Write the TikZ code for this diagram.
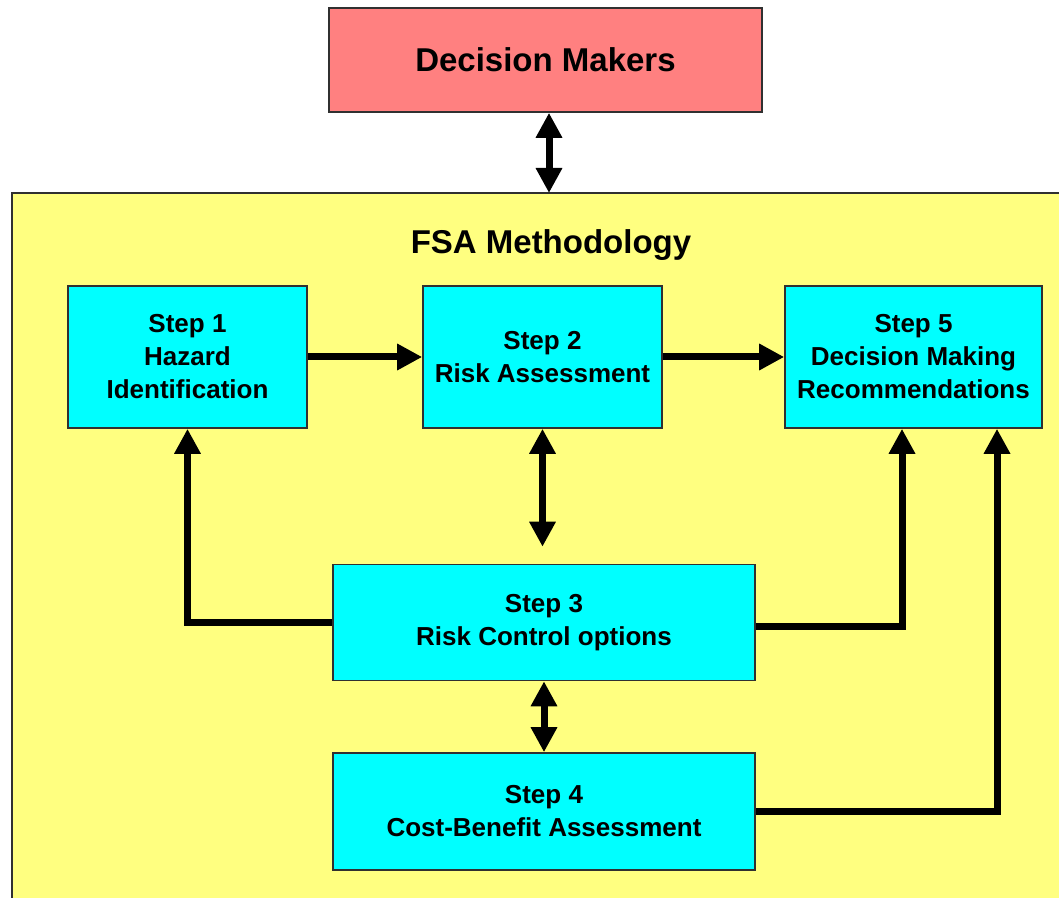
\documentclass[tikz,border=0pt]{standalone}
\usepackage{fontspec}
\setmainfont{Liberation Sans}
\usetikzlibrary{arrows.meta}

\definecolor{dmred}{HTML}{FF8080}
\definecolor{fsayellow}{HTML}{FFFF80}
\definecolor{stepcyan}{HTML}{00FFFF}
\definecolor{edgegray}{HTML}{303030}

\begin{document}
\begin{tikzpicture}[x=0.5pt,y=-0.5pt,
    stepbox/.style={draw=edgegray,line width=0.8pt,fill=stepcyan,align=center,
        font=\fontsize{13}{16.5}\selectfont\bfseries,inner sep=0pt},
    link/.style={line width=3.5pt,-{Triangle[length=12.5pt,width=12.5pt]}},
    bothways/.style={line width=3.5pt,{Triangle[length=12.5pt,width=12.5pt]}-{Triangle[length=12.5pt,width=12.5pt]}}]
    \useasboundingbox (0,0) rectangle (1059,898);
    % the methodology frame runs off the right and bottom edge
    \fill[fsayellow] (12,193) rectangle (1059,898);
    \draw[edgegray,line width=0.8pt] (12,898) -- (12,193) -- (1059,193);
    \coordinate (fsatop) at (549,193);

    \node[draw=edgegray,line width=0.8pt,fill=dmred,minimum width=216.5pt,minimum height=52pt,
        font=\fontsize{16.5}{20}\selectfont\bfseries] (dm) at (545.5,60) {Decision Makers};
    \node[font=\fontsize{16.5}{20}\selectfont\bfseries] (fsa) at (551,245) {FSA Methodology};

    \node[stepbox,minimum width=119.5pt,minimum height=71pt] (s1) at (187.5,357) {Step 1\\Hazard\\Identification};
    \node[stepbox,minimum width=119.5pt,minimum height=71pt] (s2) at (542.5,357) {Step 2\\Risk Assessment};
    \node[stepbox,minimum width=128.5pt,minimum height=71pt] (s5) at (913.5,357) {Step 5\\Decision Making\\Recommendations};
    \node[stepbox,minimum width=211pt,minimum height=58pt] (s3) at (544,622.5) {Step 3\\Risk Control options};
    \node[stepbox,minimum width=211pt,minimum height=58.5pt] (s4) at (544,811.5) {Step 4\\Cost-Benefit Assessment};

    \draw[bothways] (dm.south -| fsatop) -- (fsatop);
    \draw[link] (s1) -- (s2);
    \draw[link] (s2) -- (s5);
    \draw[bothways,shorten >=8.5pt] (s2) -- (s2 |- s3.north);
    \draw[bothways] (s3) -- (s4);
    \draw[link] (s3.west) -| (s1.south);
    \draw[link] ([yshift=-2pt]s3.east) -| ([xshift=-5.75pt]s5.south);
    \draw[link] (s4.east) -| ([xshift=41.75pt]s5.south);
\end{tikzpicture}
\end{document}
